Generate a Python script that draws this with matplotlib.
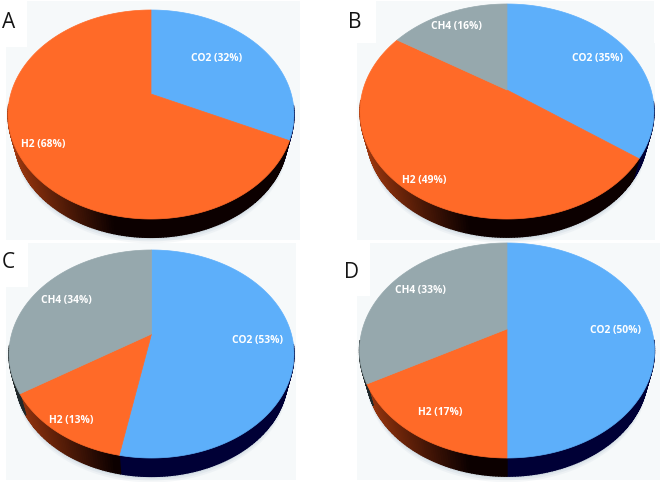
import numpy as np
import matplotlib
matplotlib.use('Agg')
import matplotlib.pyplot as plt
from matplotlib.patches import Rectangle
from matplotlib.colors import to_rgb

# gas shares, clockwise from 12 o'clock
gases = ['CO2', 'H2', 'CH4']
panel_names = ['A', 'B', 'C', 'D']
values_a = [32, 68, 0]
values_b = [35, 49, 16]
values_c = [53, 13, 34]
values_d = [50, 17, 33]

top_colors = {'CO2': '#5dafFa', 'H2': '#ff6a28', 'CH4': '#96a8ad'}

# centre x, centre y, half width, up, down (pixels of the figure)
geometry = {'A': (151, 94, 143, 84, 125),
            'B': (507, 90, 147, 86, 129),
            'C': (151.5, 334, 142.5, 84, 124),
            'D': (507, 329, 147.5, 86, 129)}
label_pos = {'A': {'CO2': (217, 58), 'H2': (43, 145)},
             'B': {'CO2': (598, 58), 'H2': (424, 180), 'CH4': (456, 26)},
             'C': {'CO2': (258, 340), 'H2': (71, 420), 'CH4': (66, 300)},
             'D': {'CO2': (616, 330), 'H2': (440, 412), 'CH4': (420, 291)}}
letter_pos = {'A': (2, 23), 'B': (348, 23), 'C': (2, 262), 'D': (344, 272)}
values = {'A': values_a, 'B': values_b, 'C': values_c, 'D': values_d}

side_scale = 0.955
side_shift = 24


def project(angle, geo, scale=1.0, shift=0.0):
    # tilted disc: circle point seen in perspective
    cx, cy, w, up, down = geo
    k = (down - up) / (down + up)
    p = up * (1 + k)
    c = w * np.sqrt(1 - k ** 2)
    X = np.sin(angle)
    Y = np.cos(angle)
    d = 1 + k * Y
    return cx + scale * c * X / d, cy + shift - scale * p * Y / d


def mix(a, b, t):
    a, b = np.array(to_rgb(a)), np.array(to_rgb(b))
    return tuple(a + (b - a) * t)


def side_color(gas, t):
    # t runs 0 at the left rim to 1 at the middle of the pie
    t = min(max(t, 0), 1)
    if gas == 'H2':
        return mix('#a83c10', '#0c0000', t)
    if gas == 'CO2':
        return '#000036'
    return '#20282a'


fig = plt.figure(figsize=(6.61, 4.82), dpi=100)
ax = fig.add_axes([0, 0, 1, 1])
ax.set_xlim(0, 661)
ax.set_ylim(482, 0)
ax.axis('off')

# pale backgrounds with the white notch behind each letter
bg = '#f6f9fa'
for x0, y0, x1, y1 in [(27, 1, 300, 47), (6, 47, 300, 240),
                       (376, 1, 654, 43), (357, 43, 655, 240),
                       (28, 243, 296, 287), (6, 287, 296, 480),
                       (370, 243, 660, 296), (357, 296, 660, 480)]:
    ax.add_patch(Rectangle((x0, y0), x1 - x0, y1 - y0, fc=bg, ec='none', zorder=0))

for name in panel_names:
    geo = geometry[name]
    vals = values[name]
    t = np.linspace(0, 2 * np.pi, 400)

    # soft shadow under the pie
    for grow, alpha in [(6, 0.10), (4, 0.14), (2, 0.20)]:
        sx, sy = project(t, geo, side_scale, side_shift + grow)
        ax.fill(sx, sy, color='#9fb4c4', alpha=alpha, lw=0, zorder=1)

    # side wall, cut in thin strips so it can shade across
    start = 0.0
    for gas, v in zip(gases, vals):
        end = start + v / 100 * 2 * np.pi
        n = max(int(v * 4), 2)
        a = np.linspace(start, end, n)
        for a0, a1 in zip(a[:-1], a[1:]):
            # only the front of the wall can be seen
            if np.cos((a0 + a1) / 2) > -0.1:
                continue
            pair = np.array([a0, a1])
            ux, uy = project(pair, geo)
            lx, ly = project(pair, geo, side_scale, side_shift)
            shade = (lx.mean() - (geo[0] - geo[2])) / geo[2] * 1.35
            col = side_color(gas, shade)
            ax.fill([ux[0], ux[1], lx[1], lx[0]], [uy[0], uy[1], ly[1], ly[0]],
                    fc=col, ec=col, lw=1.0, zorder=2)
        start = end

    # top face
    start = 0.0
    for gas, v in zip(gases, vals):
        if v == 0:
            continue
        end = start + v / 100 * 2 * np.pi
        a = np.linspace(start, end, max(int(v * 4), 2))
        px, py = project(a, geo)
        ax.fill(np.r_[geo[0], px], np.r_[geo[1], py], fc=top_colors[gas],
                ec=top_colors[gas], lw=0.5, zorder=3)
        lx_, ly_ = label_pos[name][gas]
        ax.text(lx_, ly_, '%s (%d%%)' % (gas, v), color='white', fontsize=7.4,
                fontweight='bold', family='Open Sans', ha='center', va='center',
                zorder=4)
        start = end

    ax.text(letter_pos[name][0], letter_pos[name][1], name, color='#151515',
            fontsize=15, family='Open Sans', ha='left', va='center', zorder=5)

fig.savefig('out.png', dpi=100)
